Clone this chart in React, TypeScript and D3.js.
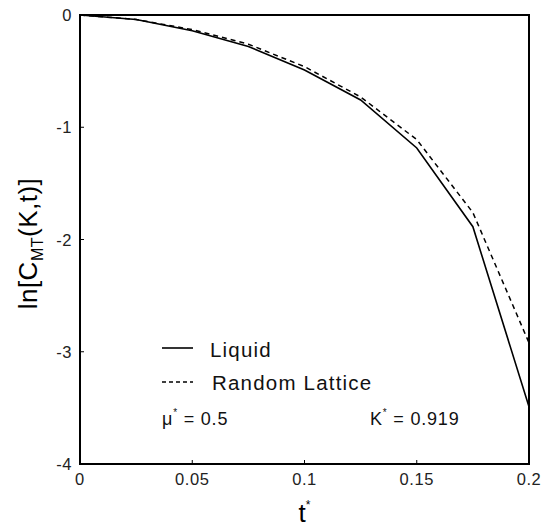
import React from "react";
import * as d3 from "d3";

const tValues = [0, 0.025, 0.05, 0.075, 0.1, 0.125, 0.15, 0.175, 0.2];
const liquid = [0, -0.04, -0.14, -0.28, -0.49, -0.757, -1.185, -1.886, -3.49];
const randomLattice = [0, -0.04, -0.13, -0.26, -0.46, -0.73, -1.11, -1.76, -2.92];
const xTicks = [0, 0.05, 0.1, 0.15, 0.2];
const xTickLabels = ["0", "0.05", "0.1", "0.15", "0.2"];
const yTicks = [0, -1, -2, -3, -4];
const yTickLabels = ["0", "-1", "-2", "-3", "-4"];

const W = 552;
const H = 529;
const left = 80;
const right = 529;
const top = 15;
const bottom = 464;

export default function App() {
  const x = d3.scaleLinear().domain([0, 0.2]).range([left, right]);
  const y = d3.scaleLinear().domain([0, -4]).range([top, bottom]);
  const line = d3
    .line<number>()
    .x((_, i) => x(tValues[i]))
    .y((d) => y(d));
  const font = "'Liberation Sans', Arial, Helvetica, sans-serif";
  return (
    <svg
      width={W}
      height={H}
      style={{ position: "absolute", left: 0, top: 0, background: "#fff" }}
      fontFamily={font}
    >
      <rect x={0} y={0} width={W} height={H} fill="#fff" />
      <path d={line(liquid) || ""} fill="none" stroke="#000" strokeWidth={1.6} />
      <path
        d={line(randomLattice) || ""}
        fill="none"
        stroke="#000"
        strokeWidth={1.5}
        strokeDasharray="5,4"
      />
      <rect
        x={left}
        y={top}
        width={right - left}
        height={bottom - top}
        fill="none"
        stroke="#000"
        strokeWidth={2}
      />
      {xTicks.map((t, i) => (
        <g key={"x" + i}>
          <line x1={x(t)} x2={x(t)} y1={bottom} y2={bottom - 4} stroke="#000" strokeWidth={1} />
          <text x={x(t)} y={bottom + 21} textAnchor="middle" fontSize={16.5} letterSpacing={0.6} fill="#222">
            {xTickLabels[i]}
          </text>
        </g>
      ))}
      {yTicks.map((v, i) => (
        <g key={"y" + i}>
          <line x1={left} x2={left + 4} y1={y(v)} y2={y(v)} stroke="#000" strokeWidth={1} />
          <text x={left - 8} y={y(v) + 6} textAnchor="end" fontSize={16.5} letterSpacing={0.6} fill="#222">
            {yTickLabels[i]}
          </text>
        </g>
      ))}
      <text x={(left + right) / 2} y={522} textAnchor="middle" fontSize={26} fill="#000">
        t
        <tspan dy={-13} fontSize={12}>*</tspan>
      </text>
      <text
        transform={`translate(37, ${(top + bottom) / 2 + 4}) rotate(-90)`}
        textAnchor="middle"
        fontSize={26}
        letterSpacing={0.5}
        fill="#000"
      >
        ln[C
        <tspan dy={6} fontSize={16}>MT</tspan>
        <tspan dy={-6}>(K,t)]</tspan>
      </text>
      <line x1={162} x2={193} y1={348} y2={348} stroke="#000" strokeWidth={1.6} />
      <text x={210} y={357} fontSize={20.5} letterSpacing={1.2} fill="#111">Liquid</text>
      <line x1={162} x2={193} y1={382} y2={382} stroke="#000" strokeWidth={1.5} strokeDasharray="4,3" />
      <text x={212} y={390} fontSize={20.5} letterSpacing={1.2} fill="#111">Random Lattice</text>
      <text x={162} y={425} fontSize={18} letterSpacing={0.8} fill="#111">
        μ<tspan dy={-9} fontSize={10}>*</tspan>
        <tspan dy={9}> = 0.5</tspan>
      </text>
      <text x={370} y={425} fontSize={18} letterSpacing={0.8} fill="#111">
        K<tspan dy={-9} fontSize={10}>*</tspan>
        <tspan dy={9}> = 0.919</tspan>
      </text>
    </svg>
  );
}
